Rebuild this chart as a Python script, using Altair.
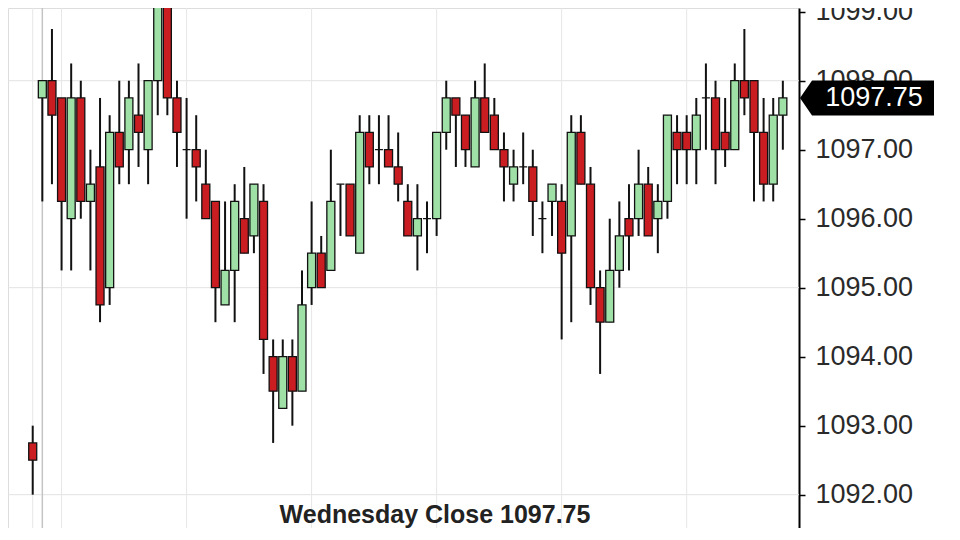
import altair as alt
import pandas as pd

opens = [1092.75, 1097.75, 1098.0, 1097.75, 1096.0, 1097.75, 1096.25, 1096.75, 1095.0, 1097.25,
         1097.0, 1097.5, 1097.0, 1098.0, 1099.5, 1097.75, 1097.0, 1097.0, 1096.5, 1096.25,
         1094.75, 1095.25, 1096.0, 1095.75, 1096.25, 1094.0, 1093.25, 1094.0, 1093.5, 1095.0,
         1095.5, 1095.25, 1096.5, 1096.5, 1095.5, 1097.25, 1097.0, 1097.0, 1096.75, 1096.25,
         1095.75, 1096.0, 1096.0, 1097.25, 1097.75, 1097.5, 1096.75, 1097.75, 1097.5, 1097.0,
         1096.5, 1096.75, 1096.75, 1096.0, 1096.25, 1096.25, 1095.75, 1097.25, 1096.5, 1095.0,
         1094.5, 1095.25, 1096.0, 1096.0, 1096.5, 1096.0, 1096.25, 1097.25, 1097.25, 1097.0,
         1097.75, 1097.75, 1097.25, 1097.0, 1098.0, 1098.0, 1097.25, 1096.5, 1097.5]
highs = [1093.0, 1098.0, 1098.75, 1097.75, 1098.25, 1098.0, 1097.0, 1097.75, 1097.5, 1098.0,
         1098.0, 1098.25, 1098.0, 1099.75, 1099.75, 1098.0, 1097.75, 1097.5, 1097.0, 1096.25,
         1096.25, 1096.5, 1096.75, 1096.5, 1096.5, 1094.25, 1094.25, 1094.25, 1095.25, 1096.25,
         1095.75, 1097.0, 1096.5, 1096.5, 1097.5, 1097.5, 1097.5, 1097.5, 1097.25, 1096.5,
         1096.5, 1096.25, 1097.25, 1098.0, 1097.75, 1097.5, 1098.0, 1098.25, 1097.75, 1097.25,
         1097.0, 1097.25, 1097.0, 1096.25, 1096.5, 1096.5, 1097.5, 1097.5, 1096.75, 1095.25,
         1096.0, 1096.25, 1096.5, 1097.0, 1096.75, 1096.5, 1097.5, 1097.5, 1097.5, 1097.75,
         1098.25, 1098.0, 1097.75, 1098.25, 1098.75, 1098.0, 1097.75, 1097.75, 1098.0]
lows = [1092.0, 1096.25, 1096.5, 1095.25, 1095.25, 1096.0, 1095.25, 1094.5, 1094.75, 1096.5,
        1096.5, 1096.75, 1096.5, 1097.5, 1097.5, 1096.75, 1096.0, 1096.25, 1096.0, 1094.5,
        1094.75, 1094.5, 1095.5, 1095.5, 1093.75, 1092.75, 1093.25, 1093.0, 1093.5, 1094.75,
        1095.0, 1095.25, 1095.75, 1095.75, 1095.5, 1096.5, 1096.5, 1096.75, 1096.25, 1095.75,
        1095.25, 1095.5, 1095.75, 1097.0, 1096.75, 1096.75, 1096.75, 1097.25, 1097.0, 1096.25,
        1096.25, 1096.5, 1095.75, 1095.5, 1095.75, 1094.25, 1094.5, 1096.5, 1094.75, 1093.75,
        1094.5, 1095.0, 1095.25, 1095.75, 1095.75, 1095.5, 1096.0, 1096.5, 1096.5, 1096.5,
        1097.0, 1096.5, 1096.75, 1097.0, 1097.5, 1096.25, 1096.25, 1096.25, 1097.0]
closes = [1092.5, 1098.0, 1097.5, 1096.25, 1097.75, 1096.25, 1096.5, 1094.75, 1097.25, 1096.75,
          1097.75, 1097.25, 1098.0, 1099.5, 1097.75, 1097.25, 1097.0, 1096.75, 1096.0, 1095.0,
          1095.25, 1096.25, 1095.5, 1096.5, 1094.25, 1093.5, 1094.0, 1093.5, 1094.75, 1095.5,
          1095.0, 1096.25, 1096.5, 1095.75, 1097.25, 1096.75, 1097.0, 1096.75, 1096.5, 1095.75,
          1096.0, 1096.0, 1097.25, 1097.75, 1097.5, 1097.0, 1097.75, 1097.25, 1097.0, 1096.75,
          1096.75, 1096.75, 1096.25, 1096.0, 1096.5, 1095.5, 1097.25, 1096.5, 1095.0, 1094.5,
          1095.25, 1095.75, 1095.75, 1096.5, 1095.75, 1096.25, 1097.5, 1097.0, 1097.0, 1097.5,
          1097.75, 1097.0, 1097.0, 1098.0, 1097.75, 1097.25, 1096.5, 1097.5, 1097.75]

y_ticks = [1092, 1093, 1094, 1095, 1096, 1097, 1098, 1099]
h_grid = [1092, 1095, 1098]
v_grid = [0, 3, 16, 29, 42, 55, 68]
session_break = [1]
caption = "Wednesday Close 1097.75"

df = pd.DataFrame({"i": list(range(len(opens))), "open": opens, "high": highs,
                   "low": lows, "close": closes})
df["dir"] = ["down" if c < o else "up" for o, c in zip(opens, closes)]

last = pd.DataFrame({"close": [closes[-1]], "label": [f"{closes[-1]:.2f}"]})

xs = alt.Scale(domain=[-2.05, 79.16], nice=False, zero=False)
ys = alt.Scale(domain=[1091.517, 1099.054], nice=False, zero=False)

base = alt.Chart(df)

hgrid = alt.Chart(pd.DataFrame({"v": h_grid})).mark_rule(color="#e2e2e2", strokeWidth=1).encode(
    y=alt.Y("v:Q", scale=ys,
            axis=alt.Axis(orient="right", values=y_ticks, format=".2f", grid=False,
                          domainColor="#000", domainWidth=2, tickColor="#000", tickWidth=1.5,
                          tickSize=6, labelFontSize=27, labelFont="Liberation Sans",
                          labelColor="#2a2a2a", labelPadding=10, title=None))
)
vgrid = alt.Chart(pd.DataFrame({"g": v_grid})).mark_rule(color="#e6e6e6", strokeWidth=1).encode(
    x=alt.X("g:Q", scale=xs, axis=None)
)
sess = alt.Chart(pd.DataFrame({"g": session_break})).mark_rule(color="#c4c4c4", strokeWidth=1.5).encode(
    x=alt.X("g:Q", scale=xs, axis=None)
)

wicks = base.mark_rule(color="#111", strokeWidth=2, clip=True).encode(
    x=alt.X("i:Q", scale=xs, axis=None),
    y=alt.Y("low:Q", scale=ys),
    y2="high:Q",
)
bodies = base.mark_bar(size=8, stroke="#111", strokeWidth=1.3, clip=True).encode(
    x=alt.X("i:Q", scale=xs, axis=None),
    y=alt.Y("open:Q", scale=ys),
    y2="close:Q",
    color=alt.Color("dir:N", scale=alt.Scale(domain=["up", "down"], range=["#9ee0a6", "#c91d22"]),
                    legend=None),
)

tag_path = "M -1 0 L -0.82 -0.26 L 1 -0.26 L 1 0.26 L -0.82 0.26 Z"
tag = alt.Chart(last).mark_point(shape=tag_path, filled=True, color="#000", opacity=1,
                                 size=17956, strokeWidth=0).encode(
    x=alt.value(859),
    y=alt.Y("close:Q", scale=ys),
)
tag_text = alt.Chart(last).mark_text(color="#fff", fontSize=27, font="Liberation Sans",
                                     align="center", baseline="middle").encode(
    x=alt.value(866),
    y=alt.Y("close:Q", scale=ys),
    text="label:N",
)
cap = alt.Chart(pd.DataFrame({"t": [caption]})).mark_text(
    fontSize=25, fontWeight="bold", font="Liberation Sans", color="#222",
    align="center", baseline="middle").encode(
    x=alt.value(427), y=alt.value(507), text="t:N")

chart = alt.layer(hgrid, vgrid, sess, wicks, bodies, tag, tag_text, cap).properties(
    width=791, height=520,
    autosize=alt.AutoSizeParams(type="none"),
    padding={"left": 0, "top": 0, "right": 144, "bottom": 0},
).configure_view(stroke=None).configure(background="#ffffff")

chart.save("out.html", embed_options={"renderer": "svg", "actions": False})
